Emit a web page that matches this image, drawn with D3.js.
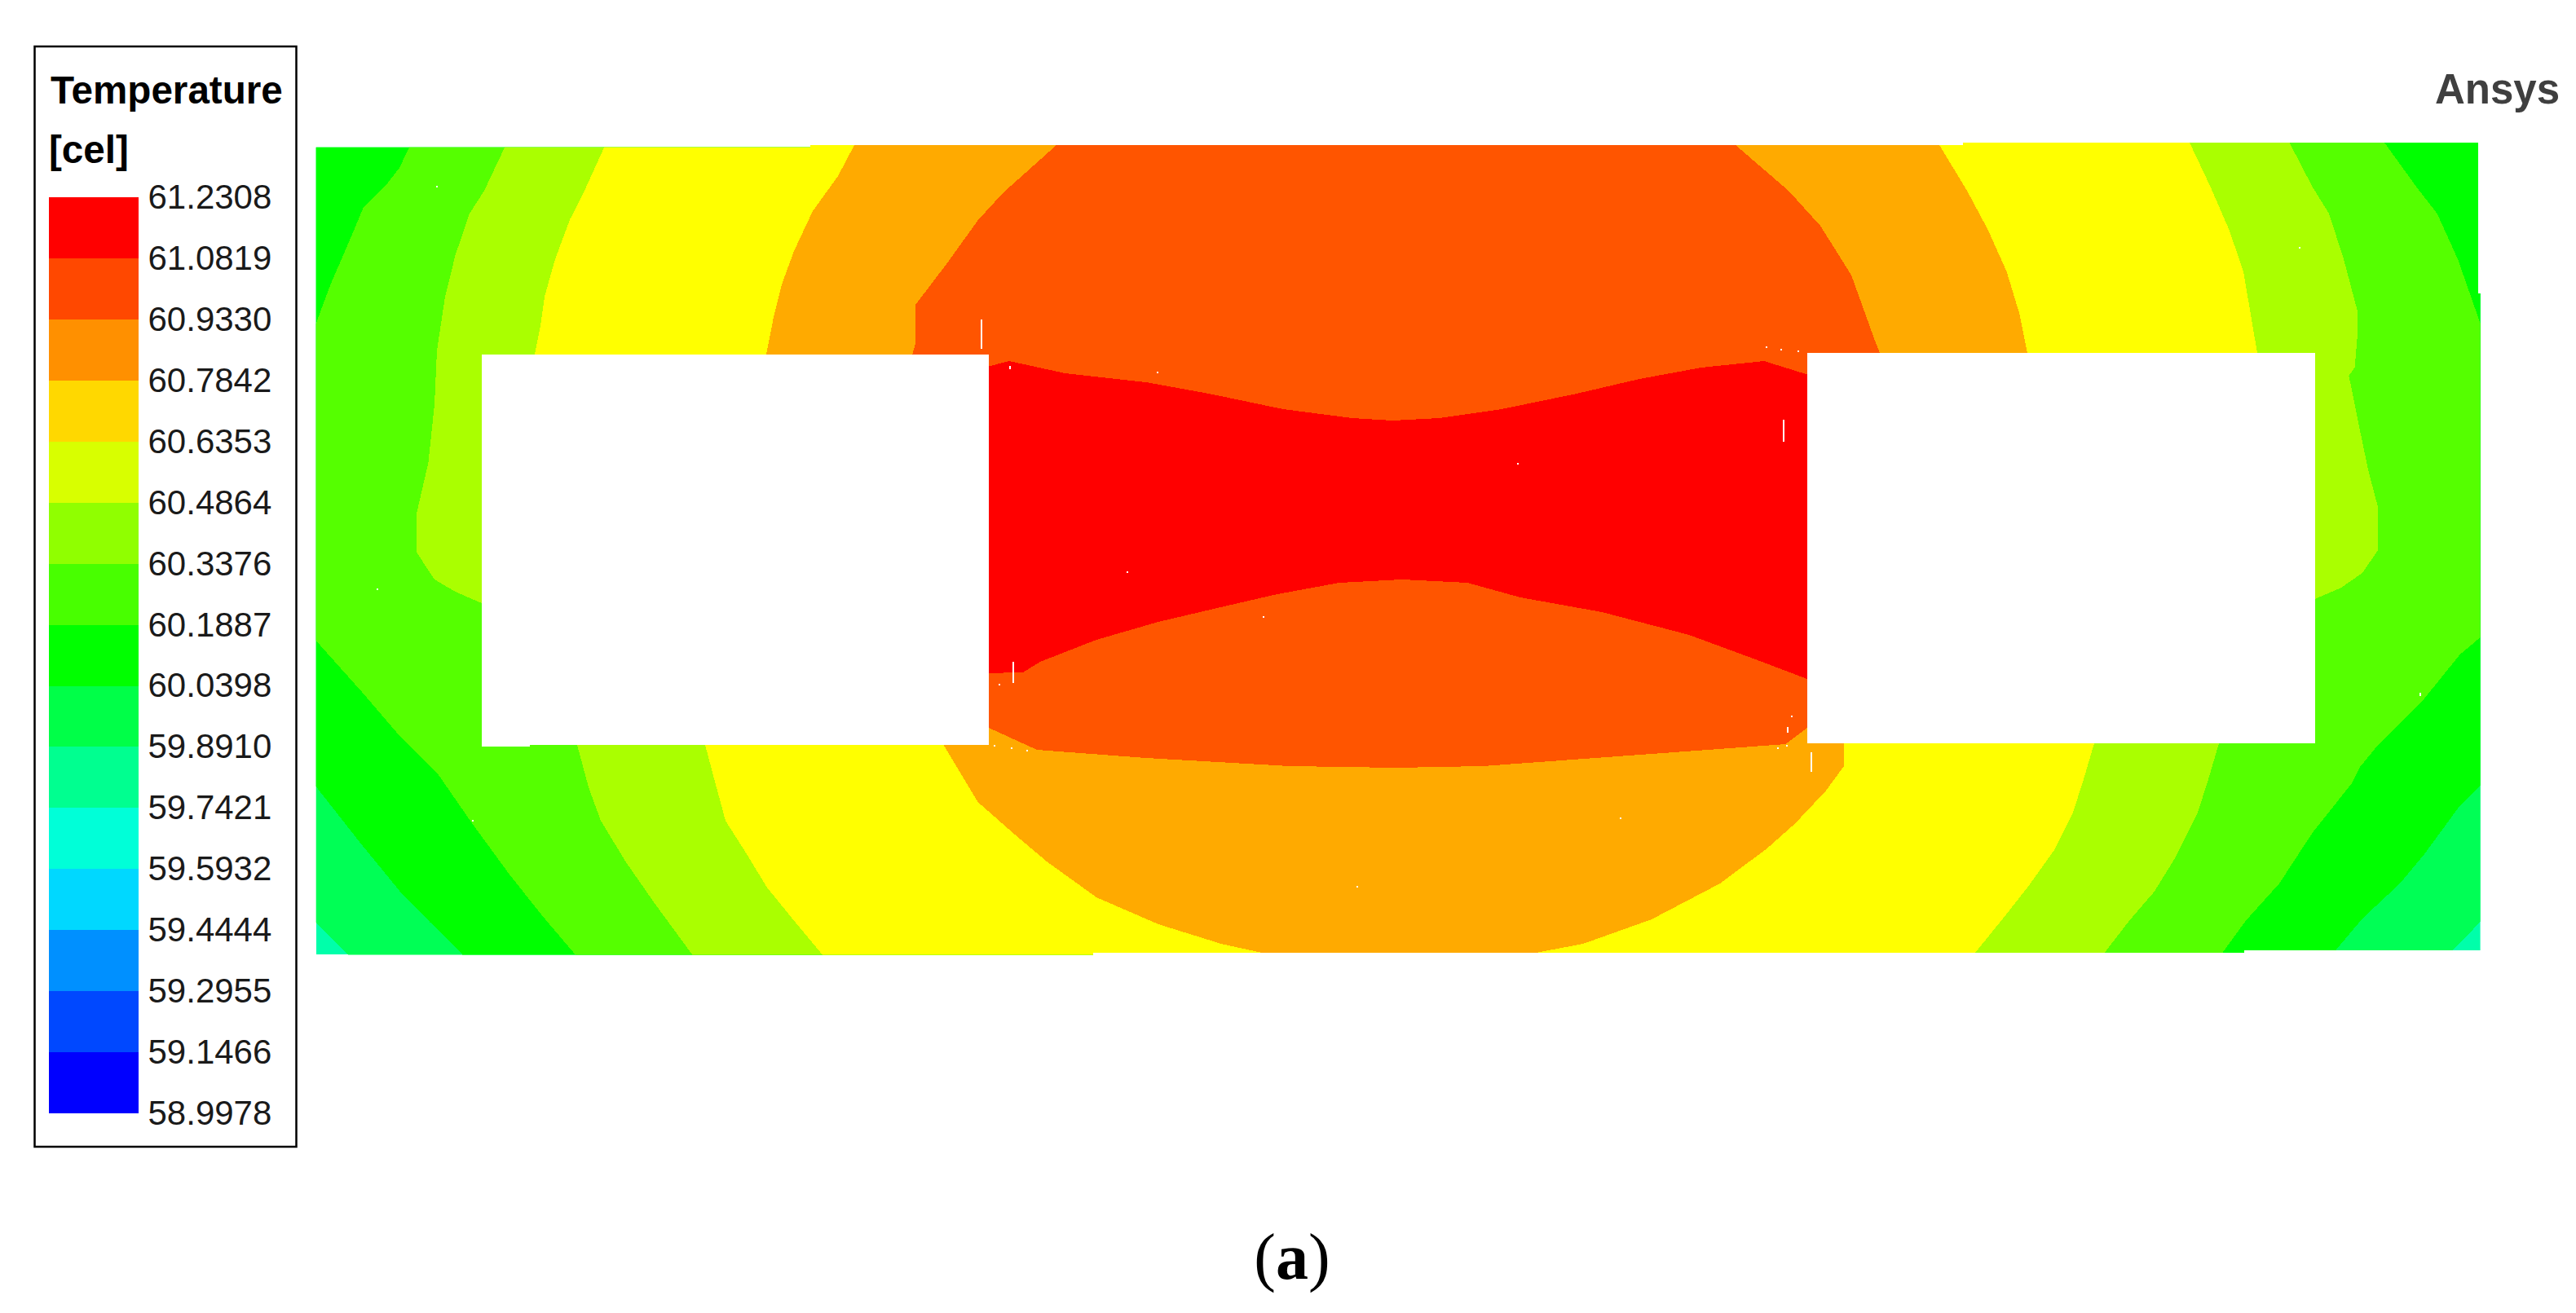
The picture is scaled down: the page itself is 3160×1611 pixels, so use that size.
<!DOCTYPE html>
<html>
<head>
<meta charset="utf-8">
<script src="https://cdn.jsdelivr.net/npm/d3@7"></script>
<style>
    body { margin: 0; background: #fff; }
    svg { display: block; }
</style>
</head>
<body>
<div id="chart"></div>
<script>
//legend values and colours, top to bottom
var legendTicks = [61.2308, 61.0819, 60.9330, 60.7842, 60.6353, 60.4864, 60.3376, 60.1887,
    60.0398, 59.8910, 59.7421, 59.5932, 59.4444, 59.2955, 59.1466, 58.9978];
var legendColors = ["#ff0000", "#ff4800", "#ff9000", "#ffd800", "#d8ff00", "#90ff00", "#48ff00",
    "#00ff00", "#00ff48", "#00ff90", "#00ffd8", "#00d8ff", "#0090ff", "#0048ff", "#0000ff"];

//contour colours of the plate, coolest to hottest
var bandColors = ["#00ffaa", "#00ff55", "#00ff00", "#55ff00", "#aaff00", "#ffff00", "#ffaa00", "#ff5500", "#ff0000"];

//plate outline and the two cut outs, in field units
var plateOutline = [[0.7,5.7],[607,5.7],[607,3],[2021,3],[2021,0],[2653,0],[2653,185],[2655.6,185],
    [2655.6,991],[2366,991],[2366,994],[954,994],[954,996.4],[0.7,996.4]];
var holeLeft = [[203.7,260.3],[825.5,260.3],[825.5,739],[263,739],[263,741],[203.7,741]];
var holeRight = [[1830,258],[2452.6,258],[2452.6,737],[1830,737]];

//isolines: each one runs top to bottom
var iso55Left = [[0,-10],[0,956],[40,997],[40,1005]];
var iso55Right = [[2665,-10],[2665,950],[2656,955],[2638,975],[2620,992],[2620,1005]];

var iso00Left = [[-10,-10],[-10,785],[0.6,790],[54,858],[103,918],[141,957],[180,996],[180,1005]];
var iso00Right = [[2665,-10],[2665,785],[2655,789],[2628,817],[2587,873],[2557,909],[2511,952],[2479,990],[2479,1005]];

var isoGreenLeft = [[115,-10],[115,5.7],[103,31],[85,54],[59,79],[44,115],[18.5,174],[0.6,222],[-10,222],
    [-10,611],[0.6,611],[57,674],[105,730],[149,773],[192,835],[238,898],[279,949.5],[318.5,996],[318.5,1005]];
var isoGreenRight = [[2538,-10],[2538,0],[2577,54],[2602.6,87],[2628,143],[2655.7,222],[2665,222],
    [2665,607],[2655.7,607],[2630.6,628],[2587,682],[2531,738],[2508,766],[2498,786],[2449.5,847],[2409,909],
    [2368,954.6],[2340,993],[2340,1005]];

var isoLimeLeft = [[232,-10],[232,6],[207,59],[189,87],[171.6,138],[159,189],[149,255],[146,321.5],[138.4,393],
    [123.6,457],[123.6,502],[146,536],[171.6,551],[203.7,565],[321,739],[335,791],[350,832],[381,883],[416.5,934],
    [462,996],[462,1005]];
var isoLimeRight = [[2421.5,-10],[2421.5,0],[2449.5,54],[2470,87],[2488,143],[2505,207],[2505,235],[2501.6,276],
    [2494.4,286],[2505.7,342],[2518.4,403],[2530,447],[2530,500],[2511,528],[2485,546],[2452.6,560],[2335,737],
    [2322,781],[2309,822],[2281,878],[2255.7,919],[2225,954.6],[2195.4,993],[2195.4,1005]];

var isoYellowLeft = [[354,-10],[354,6],[330,59],[312,94.5],[294,143],[281,189],[276,225],[269,260],[478,739],
    [490.5,786],[503,832],[529,873],[554,914],[587,954.6],[621.6,996],[621.6,1005]];
var isoYellowRight = [[2299,-10],[2299,0],[2324.5,54],[2347.5,107],[2365,158],[2375.5,220],[2382,258],[2182,737],
    [2169,781],[2156,822],[2133,868],[2100,914],[2072,949.5],[2036,994],[2036,1005]];

var isoOrangeLeft = [[661,-10],[661,3],[641,41],[610,84],[587,133],[572,174],[562,214],[553,260],[770,738],
    [812.5,809],[858,849],[897,882],[958,926],[1034,959],[1111,983],[1161,994],[1161,1005]];
var isoOrangeRight = [[1992,-10],[1992,3],[2026,59],[2051.6,107],[2074.5,158],[2090,209],[2100,258],[1875,736],
    [1875,765],[1853,795],[1815,835.5],[1780.6,866],[1723,909],[1639,953],[1555,983],[1497,994],[1497,1005]];

var isoDeepLeft = [[909,-10],[909,3],[843,62],[812.5,95.5],[774,149],[736,199],[736,246],[732,261],[780,500],[826,718]];
var isoDeepBottom = [[885,745],[1019,755],[1195,765],[1325,767],[1432,765],[1570,755],[1708,745],[1803.5,738]];
var isoDeepRight = [[1742,-10],[1742,3],[1807,59],[1846,102],[1884,162.5],[1913,243],[1919,258],[1919,500],[1830,718]];

var isoRedTop = [[820,276],[851,268],[919.6,283],[1019,294],[1096,308],[1187,327],[1272,338],[1321,341],[1379,338],
    [1455,327],[1547,308],[1624,290],[1700,276],[1777,268],[1835,286]];
var isoRedBottom = [[820,651],[868,650],[889,637],[958,610],[1034,588],[1119,568],[1180,554],[1256,540],[1333,536],
    [1413,540],[1478,558],[1578,576],[1685,604],[1769,635],[1835,660]];

//small white mesh gaps: x, top y, bottom y
var meshGaps = [[816,217,253],[854.6,637,663],[1800,340,367],[1834,748,772],[1805,717,724],[851,274,278],[1032,281,283],
    [1474,393,395],[995,526,528],[1162,581,583],[838,664,666],[1779,250,252],[1797,253,255],[1818,255,257],
    [1810,703,705],[832,739,741],[853,742,744],[872,745,747],[1793,742,744],[1803.5,739,741],[1600,828,830],[1277,912,914],
    [147.6,53,55],[74.6,547,549],[191.5,831,833],[2432.7,128,130],[2581,675,679]];

var chartWidth = 3160, chartHeight = 1611;

var svg = d3.select("#chart").append("svg")
    .attr("width", chartWidth)
    .attr("height", chartHeight);

//field units to page
var xField = d3.scaleLinear().domain([0, 2655.6]).range([387, 3042.6]);
var yField = d3.scaleLinear().domain([0, 996.4]).range([175, 1171.4]);

var fieldLine = d3.line()
    .x(function(d) { return xField(d[0]); })
    .y(function(d) { return yField(d[1]); });
var closedPath = function(points) { return fieldLine(points) + "Z"; };

svg.append("clipPath").attr("id", "plate")
    .append("path").attr("d", closedPath(plateOutline));

var field = svg.append("g")
    .attr("clip-path", "url(#plate)")
    .attr("shape-rendering", "crispEdges");

//regions above each level, painted coolest first so the hotter one covers
var regions = [
    {level: 1, points: iso55Left.concat(iso55Right.slice().reverse())},
    {level: 2, points: iso00Left.concat(iso00Right.slice().reverse())},
    {level: 3, points: isoGreenLeft.concat(isoGreenRight.slice().reverse())},
    {level: 4, points: isoLimeLeft.concat(isoLimeRight.slice().reverse())},
    {level: 5, points: isoYellowLeft.concat(isoYellowRight.slice().reverse())},
    {level: 6, points: isoOrangeLeft.concat(isoOrangeRight.slice().reverse())},
    {level: 7, points: isoDeepLeft.concat(isoDeepBottom, isoDeepRight.slice().reverse())},
    {level: 8, points: isoRedTop.concat(isoRedBottom.slice().reverse())}
];

field.append("path")
    .attr("d", closedPath(plateOutline))
    .attr("fill", bandColors[0]);

field.selectAll("path.band")
    .data(regions)
    .enter().append("path")
    .attr("class", "band")
    .attr("d", function(d) { return closedPath(d.points); })
    .attr("fill", function(d) { return bandColors[d.level]; });

//mesh gaps
field.selectAll("rect.gap")
    .data(meshGaps)
    .enter().append("rect")
    .attr("class", "gap")
    .attr("x", function(d) { return xField(d[0]); })
    .attr("y", function(d) { return yField(d[1]); })
    .attr("width", 2)
    .attr("height", function(d) { return yField(d[2]) - yField(d[1]); })
    .attr("fill", "#fff");

//the two cut outs
svg.selectAll("path.hole")
    .data([holeLeft, holeRight])
    .enter().append("path")
    .attr("class", "hole")
    .attr("d", closedPath)
    .attr("fill", "#fff")
    .attr("shape-rendering", "crispEdges");

//legend box
svg.append("rect")
    .attr("x", 42.5)
    .attr("y", 57)
    .attr("width", 321)
    .attr("height", 1350)
    .attr("fill", "#fff")
    .attr("stroke", "#000")
    .attr("stroke-width", 2.5);

var legendFont = "'Liberation Sans', Arial, sans-serif";

svg.append("text")
    .attr("x", 62)
    .attr("y", 127)
    .attr("font-family", legendFont)
    .attr("font-weight", "bold")
    .attr("font-size", 47.6)
    .attr("fill", "#000")
    .text("Temperature");

svg.append("text")
    .attr("x", 60)
    .attr("y", 200)
    .attr("font-family", legendFont)
    .attr("font-weight", "bold")
    .attr("font-size", 47.6)
    .attr("fill", "#000")
    .text("[cel]");

//temperature scale of the legend, ticks are the band edges
var yLegend = d3.scaleLinear()
    .domain([legendTicks[0], legendTicks[legendTicks.length - 1]])
    .range([242, 1366]);

svg.selectAll("rect.swatch")
    .data(legendColors)
    .enter().append("rect")
    .attr("class", "swatch")
    .attr("x", 59.5)
    .attr("y", function(d, i) { return yLegend(legendTicks[i]); })
    .attr("width", 110)
    .attr("height", function(d, i) { return yLegend(legendTicks[i + 1]) - yLegend(legendTicks[i]); })
    .attr("fill", function(d) { return d; })
    .attr("shape-rendering", "crispEdges");

var legendAxis = svg.append("g")
    .attr("transform", "translate(169.5,0)")
    .call(d3.axisRight(yLegend)
        .tickValues(legendTicks)
        .tickSize(0)
        .tickPadding(12)
        .tickFormat(d3.format(".4f")));

legendAxis.select(".domain").remove();
legendAxis.selectAll("text")
    .attr("font-family", legendFont)
    .attr("font-size", 42)
    .attr("fill", "#1a1a1a");

//logo text top right
svg.append("text")
    .attr("x", 2987)
    .attr("y", 127)
    .attr("font-family", legendFont)
    .attr("font-weight", "bold")
    .attr("font-size", 51)
    .attr("fill", "#3f3f3f")
    .text("Ansys");

//caption
var caption = svg.append("text")
    .attr("x", 1585)
    .attr("y", 1569)
    .attr("text-anchor", "middle")
    .attr("font-family", "'Liberation Serif', 'Times New Roman', serif")
    .attr("font-size", 80)
    .attr("fill", "#000");
caption.append("tspan").text("(");
caption.append("tspan").attr("font-weight", "bold").text("a");
caption.append("tspan").text(")");
</script>
</body>
</html>
